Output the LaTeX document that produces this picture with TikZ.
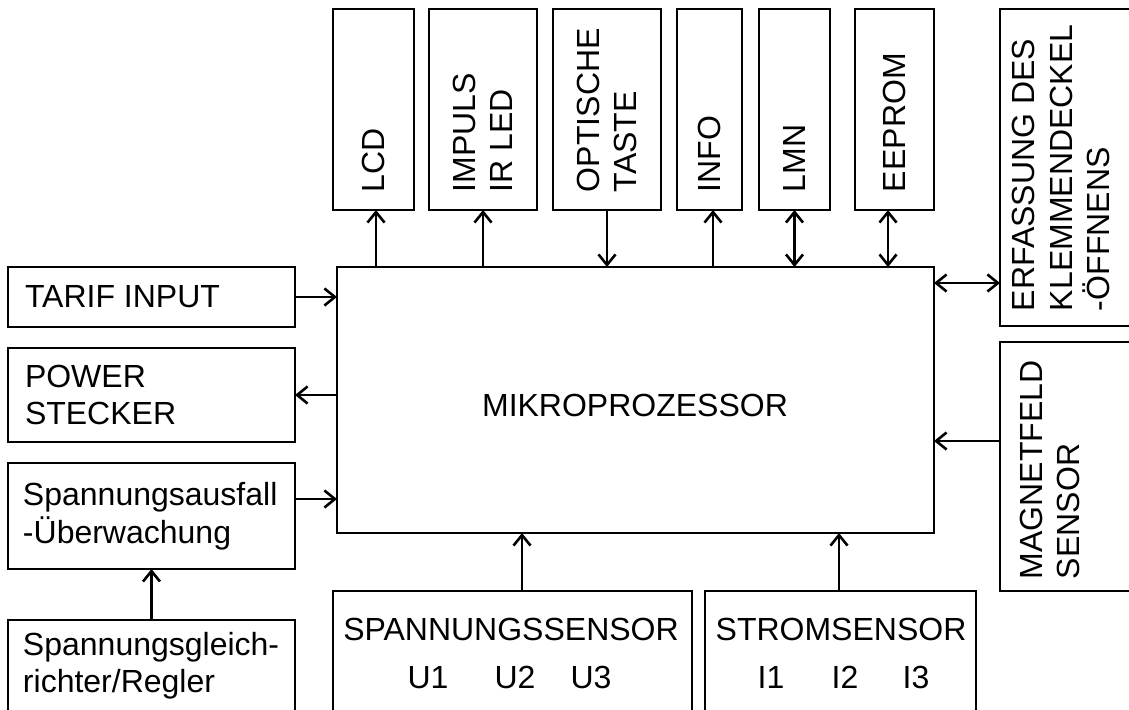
\documentclass[tikz,border=0pt]{standalone}
\usepackage{fontspec}
\setmainfont{Liberation Sans}
\usetikzlibrary{arrows.meta}
\tikzset{
  box/.style={draw, line width=2.6pt, inner sep=0pt, outer sep=0pt},
  lbl/.style={font=\fontsize{32}{37.5}\selectfont, inner sep=0pt, outer sep=0pt, align=left},
  vlbl/.style={lbl, rotate=90, anchor=west},
  tip/.style={Straight Barb[length=10.5pt,width=17pt]},
  arr/.style={line width=2.6pt, -{Straight Barb[length=10.5pt,width=17pt]}},
  darr/.style={line width=2.6pt, {Straight Barb[length=10.5pt,width=17pt]}-{Straight Barb[length=10.5pt,width=17pt]}}
}
\begin{document}
\begin{tikzpicture}[x=1pt,y=-1pt]
\clip (0,0) rectangle (1129,709);
\fill[white] (0,0) rectangle (1129,709);
% top boxes
\node[box, minimum width=81pt, minimum height=201pt] (lcd) at (373.5,109.5) {};
\node[box, minimum width=108pt, minimum height=201pt] (imp) at (483,109.5) {};
\node[box, minimum width=108pt, minimum height=201pt] (opt) at (607,109.5) {};
\node[box, minimum width=65pt, minimum height=201pt] (info) at (709.5,109.5) {};
\node[box, minimum width=71pt, minimum height=201pt] (lmn) at (794.5,109.5) {};
\node[box, minimum width=79pt, minimum height=201pt] (eep) at (894.5,109.5) {};
% right boxes
\node[box, minimum width=140pt, minimum height=317pt] (erf) at (1070,167.5) {};
\node[box, minimum width=140pt, minimum height=249pt] (mag) at (1070,466.5) {};
% main
\node[box, minimum width=597pt, minimum height=266pt] (main) at (635.5,400) {};
% left boxes
\node[box, minimum width=287pt, minimum height=60pt] (tarif) at (151.5,297) {};
\node[box, minimum width=287pt, minimum height=94pt] (power) at (151.5,395) {};
\node[box, minimum width=287pt, minimum height=106pt] (ausf) at (151.5,516) {};
\node[box, minimum width=287pt, minimum height=100pt] (gleich) at (151.5,670) {};
% bottom boxes
\node[box, minimum width=359pt, minimum height=129pt] (spann) at (512.5,655.5) {};
\node[box, minimum width=271pt, minimum height=129pt] (strom) at (840.5,655.5) {};

% texts
\node[vlbl] (lcdt) at ([yshift=18pt]lcd.south) {LCD};
\node[vlbl] (impt) at ([yshift=18pt]imp.south) {IMPULS\\IR LED};
\node[vlbl] (optt) at ([yshift=18pt]opt.south) {OPTISCHE\\TASTE};
\node[vlbl] (infot) at ([yshift=18pt]info.south) {INFO};
\node[vlbl] (lmnt) at ([yshift=18pt]lmn.south) {LMN};
\node[vlbl] (eept) at ([yshift=18pt]eep.south) {EEPROM};
\node[vlbl] (erft) at (1061,311) {ERFASSUNG DES\\KLEMMENDECKEL\\-ÖFFNENS};
\node[vlbl] (magt) at (1050,579) {MAGNETFELD\\SENSOR};
\node[lbl] (maint) at (635,405) {MIKROPROZESSOR};
\node[lbl, anchor=west] (tarift) at (25,297) {TARIF INPUT};
\node[lbl, anchor=west] (powert) at (25,395) {POWER\\STECKER};
\node[lbl, anchor=west] (ausft) at (23,516) {Spannungsausfall\\-Überwachung};
\node[lbl, anchor=north west] (gleicht) at (23,632) {Spannungsgleich-\\richter/Regler};
\node[lbl, anchor=base] (spannt) at (511,640) {SPANNUNGSSENSOR};
\node[lbl, anchor=base] (stromt) at (841,640) {STROMSENSOR};
\node[lbl, anchor=base] (u1) at (428,688) {U1};
\node[lbl, anchor=base] (u2) at (515,688) {U2};
\node[lbl, anchor=base] (u3) at (591,688) {U3};
\node[lbl, anchor=base] (i1) at (771,688) {I1};
\node[lbl, anchor=base] (i2) at (845,688) {I2};
\node[lbl, anchor=base] (i3) at (916,688) {I3};

% connectors top
\draw[arr] ([xshift=2.5pt]lcd.south |- main.north) -- ([xshift=2.5pt]lcd.south);
\draw[arr] (imp.south |- main.north) -- (imp.south);
\draw[arr] (opt.south) -- (opt.south |- main.north);
\draw[arr] ([xshift=3.5pt]info.south |- main.north) -- ([xshift=3.5pt]info.south);
\draw[darr] (lmn.south |- main.north) -- (lmn.south);
\draw[darr] ([xshift=-6.5pt]eep.south |- main.north) -- ([xshift=-6.5pt]eep.south);
% right
\draw[darr] ([yshift=-115.5pt]erf.west -| main.east) -- ([yshift=-115.5pt]erf.west);
\draw[arr] ([yshift=25.5pt]mag.west) -- ([yshift=25.5pt]mag.west -| main.east);
% left
\draw[arr] (tarif.east) -- (tarif.east -| main.west);
\draw[arr] (power.east -| main.west) -- (power.east);
\draw[arr] ([yshift=17pt]ausf.east) -- ([yshift=17pt]ausf.east -| main.west);
\draw[arr] (gleich.north) -- (ausf.south);
% bottom
\draw[arr] ([xshift=9.5pt]spann.north) -- ([xshift=9.5pt]spann.north |- main.south);
\draw[arr] ([xshift=-1.5pt]strom.north) -- ([xshift=-1.5pt]strom.north |- main.south);
\end{tikzpicture}
\end{document}
